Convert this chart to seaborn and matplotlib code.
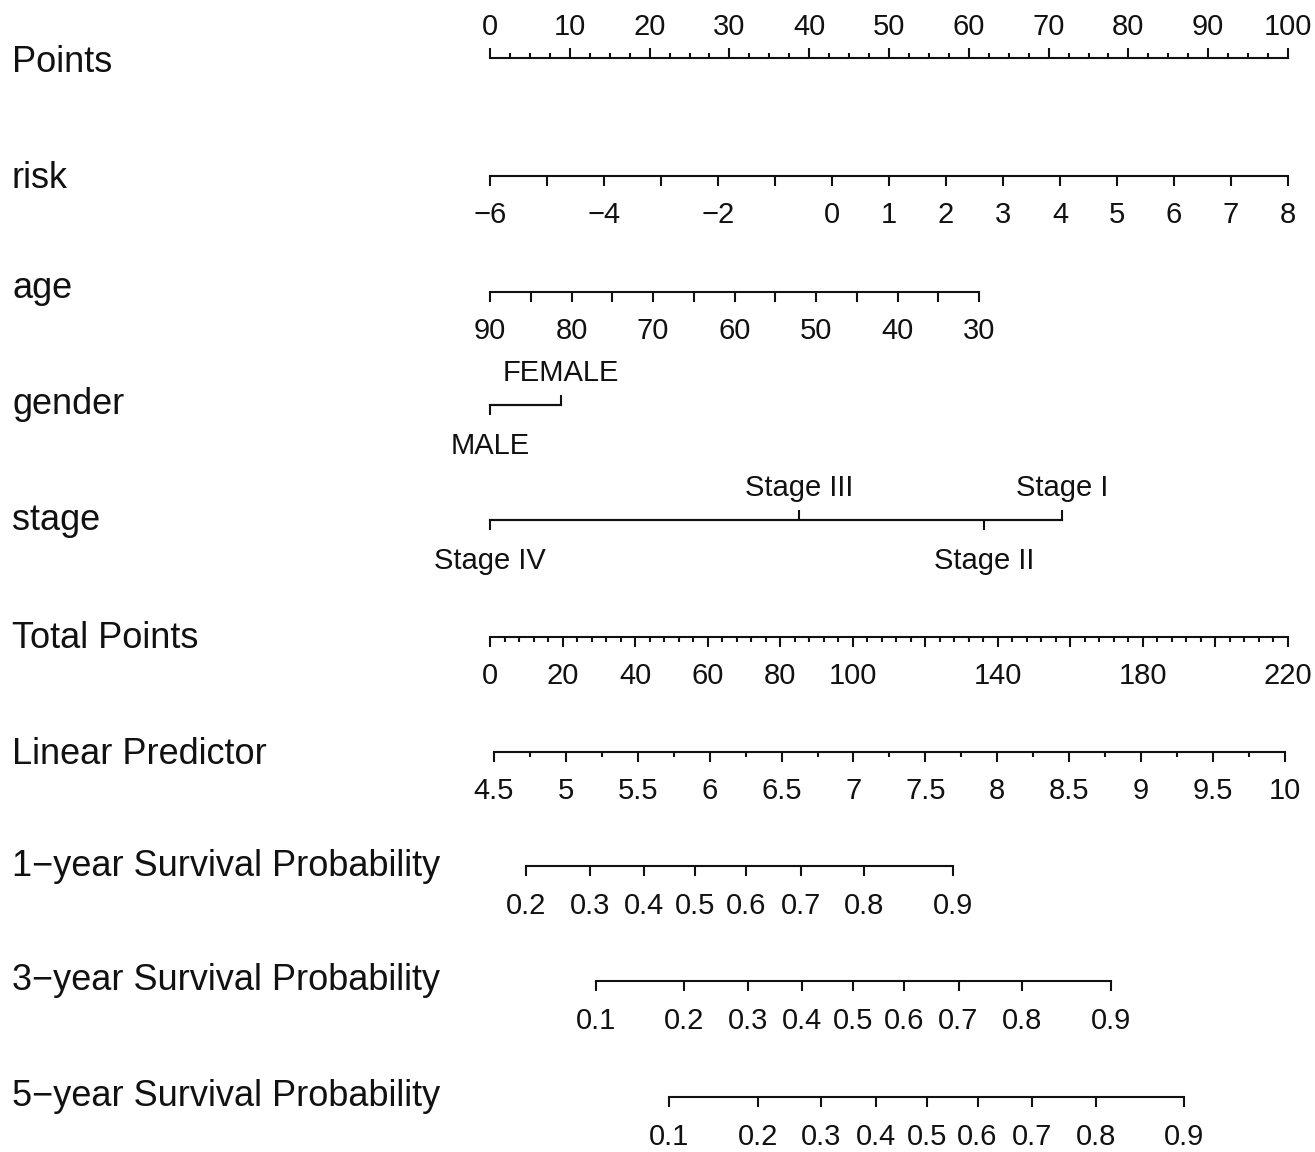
import numpy as np
import pandas as pd
import seaborn as sns
import matplotlib
matplotlib.use("Agg")
import matplotlib.pyplot as plt
from statistics import NormalDist

# ---------------- data ----------------
points_major = [0, 10, 20, 30, 40, 50, 60, 70, 80, 90, 100]
points_minor = [2.5 * i for i in range(41)]

risk_values = [-6, -5, -4, -3, -2, -1, 0, 1, 2, 3, 4, 5, 6, 7, 8]
risk_labels = ["−6", "", "−4", "", "−2", "", "0", "1", "2", "3", "4", "5", "6", "7", "8"]
risk_points = [0.0, 100.0]          # points at risk = -6 and risk = 8

age_values = [90, 85, 80, 75, 70, 65, 60, 55, 50, 45, 40, 35, 30]
age_labels = ["90", "", "80", "", "70", "", "60", "", "50", "", "40", "", "30"]
age_points = [0.0, 61.3]            # points at age = 90 and age = 30

gender_levels = ["MALE", "FEMALE"]
gender_points = [0.0, 8.9]
gender_side = ["below", "above"]

stage_levels = ["Stage IV", "Stage III", "Stage II", "Stage I"]
stage_points = [0.0, 38.7, 61.9, 71.7]
stage_side = ["below", "above", "below", "above"]

total_major = [0, 20, 40, 60, 80, 100, 120, 140, 160, 180, 200, 220]
total_labels = ["0", "20", "40", "60", "80", "100", "", "140", "", "180", "", "220"]
total_minor = list(range(0, 221, 4))

lp_major = [4.5, 5, 5.5, 6, 6.5, 7, 7.5, 8, 8.5, 9, 9.5, 10]
lp_labels = ["4.5", "5", "5.5", "6", "6.5", "7", "7.5", "8", "8.5", "9", "9.5", "10"]
lp_minor = [4.75, 5.25, 5.75, 6.25, 6.75, 7.25, 7.75, 8.25, 8.75, 9.25, 9.75]

surv1_values = [0.2, 0.3, 0.4, 0.5, 0.6, 0.7, 0.8, 0.9]
surv3_values = [0.1, 0.2, 0.3, 0.4, 0.5, 0.6, 0.7, 0.8, 0.9]
surv5_values = [0.1, 0.2, 0.3, 0.4, 0.5, 0.6, 0.7, 0.8, 0.9]
surv_days = [365, 1095, 1825]

# model constants (log-normal survival model)
total_max = 220.0
lp_at_zero = 4.472
lp_per_point = 0.02523
sigma = 1.397

# ---------------- scales: value -> "Points" coordinate (0..100) ----------------
def risk_x(v):
    return risk_points[0] + (np.asarray(v, float) + 6) / 14.0 * (risk_points[1] - risk_points[0])

def age_x(v):
    return (90 - np.asarray(v, float)) / 60.0 * (age_points[1] - age_points[0])

def total_x(v):
    return np.asarray(v, float) / total_max * 100.0

def lp_x(v):
    return total_x((np.asarray(v, float) - lp_at_zero) / lp_per_point)

def surv_x(p, days):
    nd = NormalDist()
    lp = np.array([np.log(days) + sigma * nd.inv_cdf(q) for q in p])
    return lp_x(lp)

# ---------------- figure ----------------
sns.set_theme(style="ticks")
plt.rcParams["font.family"] = ["Liberation Sans", "DejaVu Sans"]
plt.rcParams["axes.unicode_minus"] = True

FIG_W, FIG_H = 1315, 1152
fig = plt.figure(figsize=(FIG_W / 100, FIG_H / 100), dpi=100)
fig.patch.set_facecolor("white")

X0_PX, X1_PX = 490, 1288
L = X0_PX / FIG_W
W = (X1_PX - X0_PX) / FIG_W
LW = 1.5
MAJ = 7.2
MIN = 3.6
TICK_FS = 21
ROW_FS = 26
INK = "#111111"


def row_axis(y_px, side, pad):
    ax = fig.add_axes([L, 1 - y_px / FIG_H, W, 1e-6])
    ax.set_xlim(0, 100)
    ax.set_ylim(0, 1)
    ax.patch.set_visible(False)
    ax.yaxis.set_visible(False)
    sp = "top" if side == "above" else "bottom"
    sns.despine(ax=ax, left=True, right=True, top=(sp != "top"), bottom=(sp != "bottom"))
    ax.spines[sp].set_linewidth(LW)
    ax.spines[sp].set_color(INK)
    ax.xaxis.set_ticks_position(sp)
    ax.tick_params(axis="x", which="both", direction="out", width=LW, color=INK,
                   labelcolor=INK, labelsize=TICK_FS, pad=pad)
    ax.tick_params(axis="x", which="major", length=MAJ)
    ax.tick_params(axis="x", which="minor", length=MIN)
    if side == "above":
        ax.tick_params(axis="x", labeltop=True, labelbottom=False)
    return ax, sp


def linear_row(y_px, side, major_pos, labels, minor_pos=None, bounds=None, pad=4):
    ax, sp = row_axis(y_px, side, pad)
    ax.set_xticks(major_pos, labels)
    if minor_pos is not None:
        ax.set_xticks(minor_pos, minor=True)
    else:
        ax.set_xticks([], minor=True)
    if bounds is None:
        bounds = (min(major_pos), max(major_pos))
    ax.spines[sp].set_bounds(*bounds)
    return ax


def cat_row(y_px, pos, labels, sides):
    pos = np.asarray(pos, float)
    bounds = (pos.min(), pos.max())
    for side in ("above", "below"):
        sel = [i for i, s in enumerate(sides) if s == side]
        linear_row(y_px, side, pos[sel], [labels[i] for i in sel], bounds=bounds,
                   pad=5.5 if side == "above" else 12)


# rows
linear_row(58, "above", total_x(np.array(points_major) * 2.2), [str(v) for v in points_major],
           minor_pos=np.array(points_minor), pad=5)
linear_row(176, "below", risk_x(risk_values), risk_labels, pad=10.5)
linear_row(292, "below", age_x(age_values), age_labels, pad=10.5)
cat_row(405, gender_points, gender_levels, gender_side)
cat_row(520, stage_points, stage_levels, stage_side)
linear_row(637, "below", total_x(total_major), total_labels, minor_pos=total_x(total_minor), pad=10.5)
linear_row(752, "below", lp_x(lp_major), lp_labels, minor_pos=lp_x(lp_minor), pad=11)
for y_px, vals, days in [(866, surv1_values, surv_days[0]),
                         (981, surv3_values, surv_days[1]),
                         (1097, surv5_values, surv_days[2])]:
    linear_row(y_px, "below", surv_x(vals, days), [f"{v:g}" for v in vals], pad=11.5)

row_names = ["Points", "risk", "age", "gender", "stage", "Total Points", "Linear Predictor",
             "1−year Survival Probability", "3−year Survival Probability",
             "5−year Survival Probability"]
row_y = [63, 178, 288, 405, 521, 639, 755, 866, 981, 1097]
for name, y in zip(row_names, row_y):
    fig.text(12 / FIG_W, 1 - y / FIG_H, name, ha="left", va="center",
             fontsize=ROW_FS, color=INK)

fig.savefig("out.png", dpi=100, facecolor="white")
